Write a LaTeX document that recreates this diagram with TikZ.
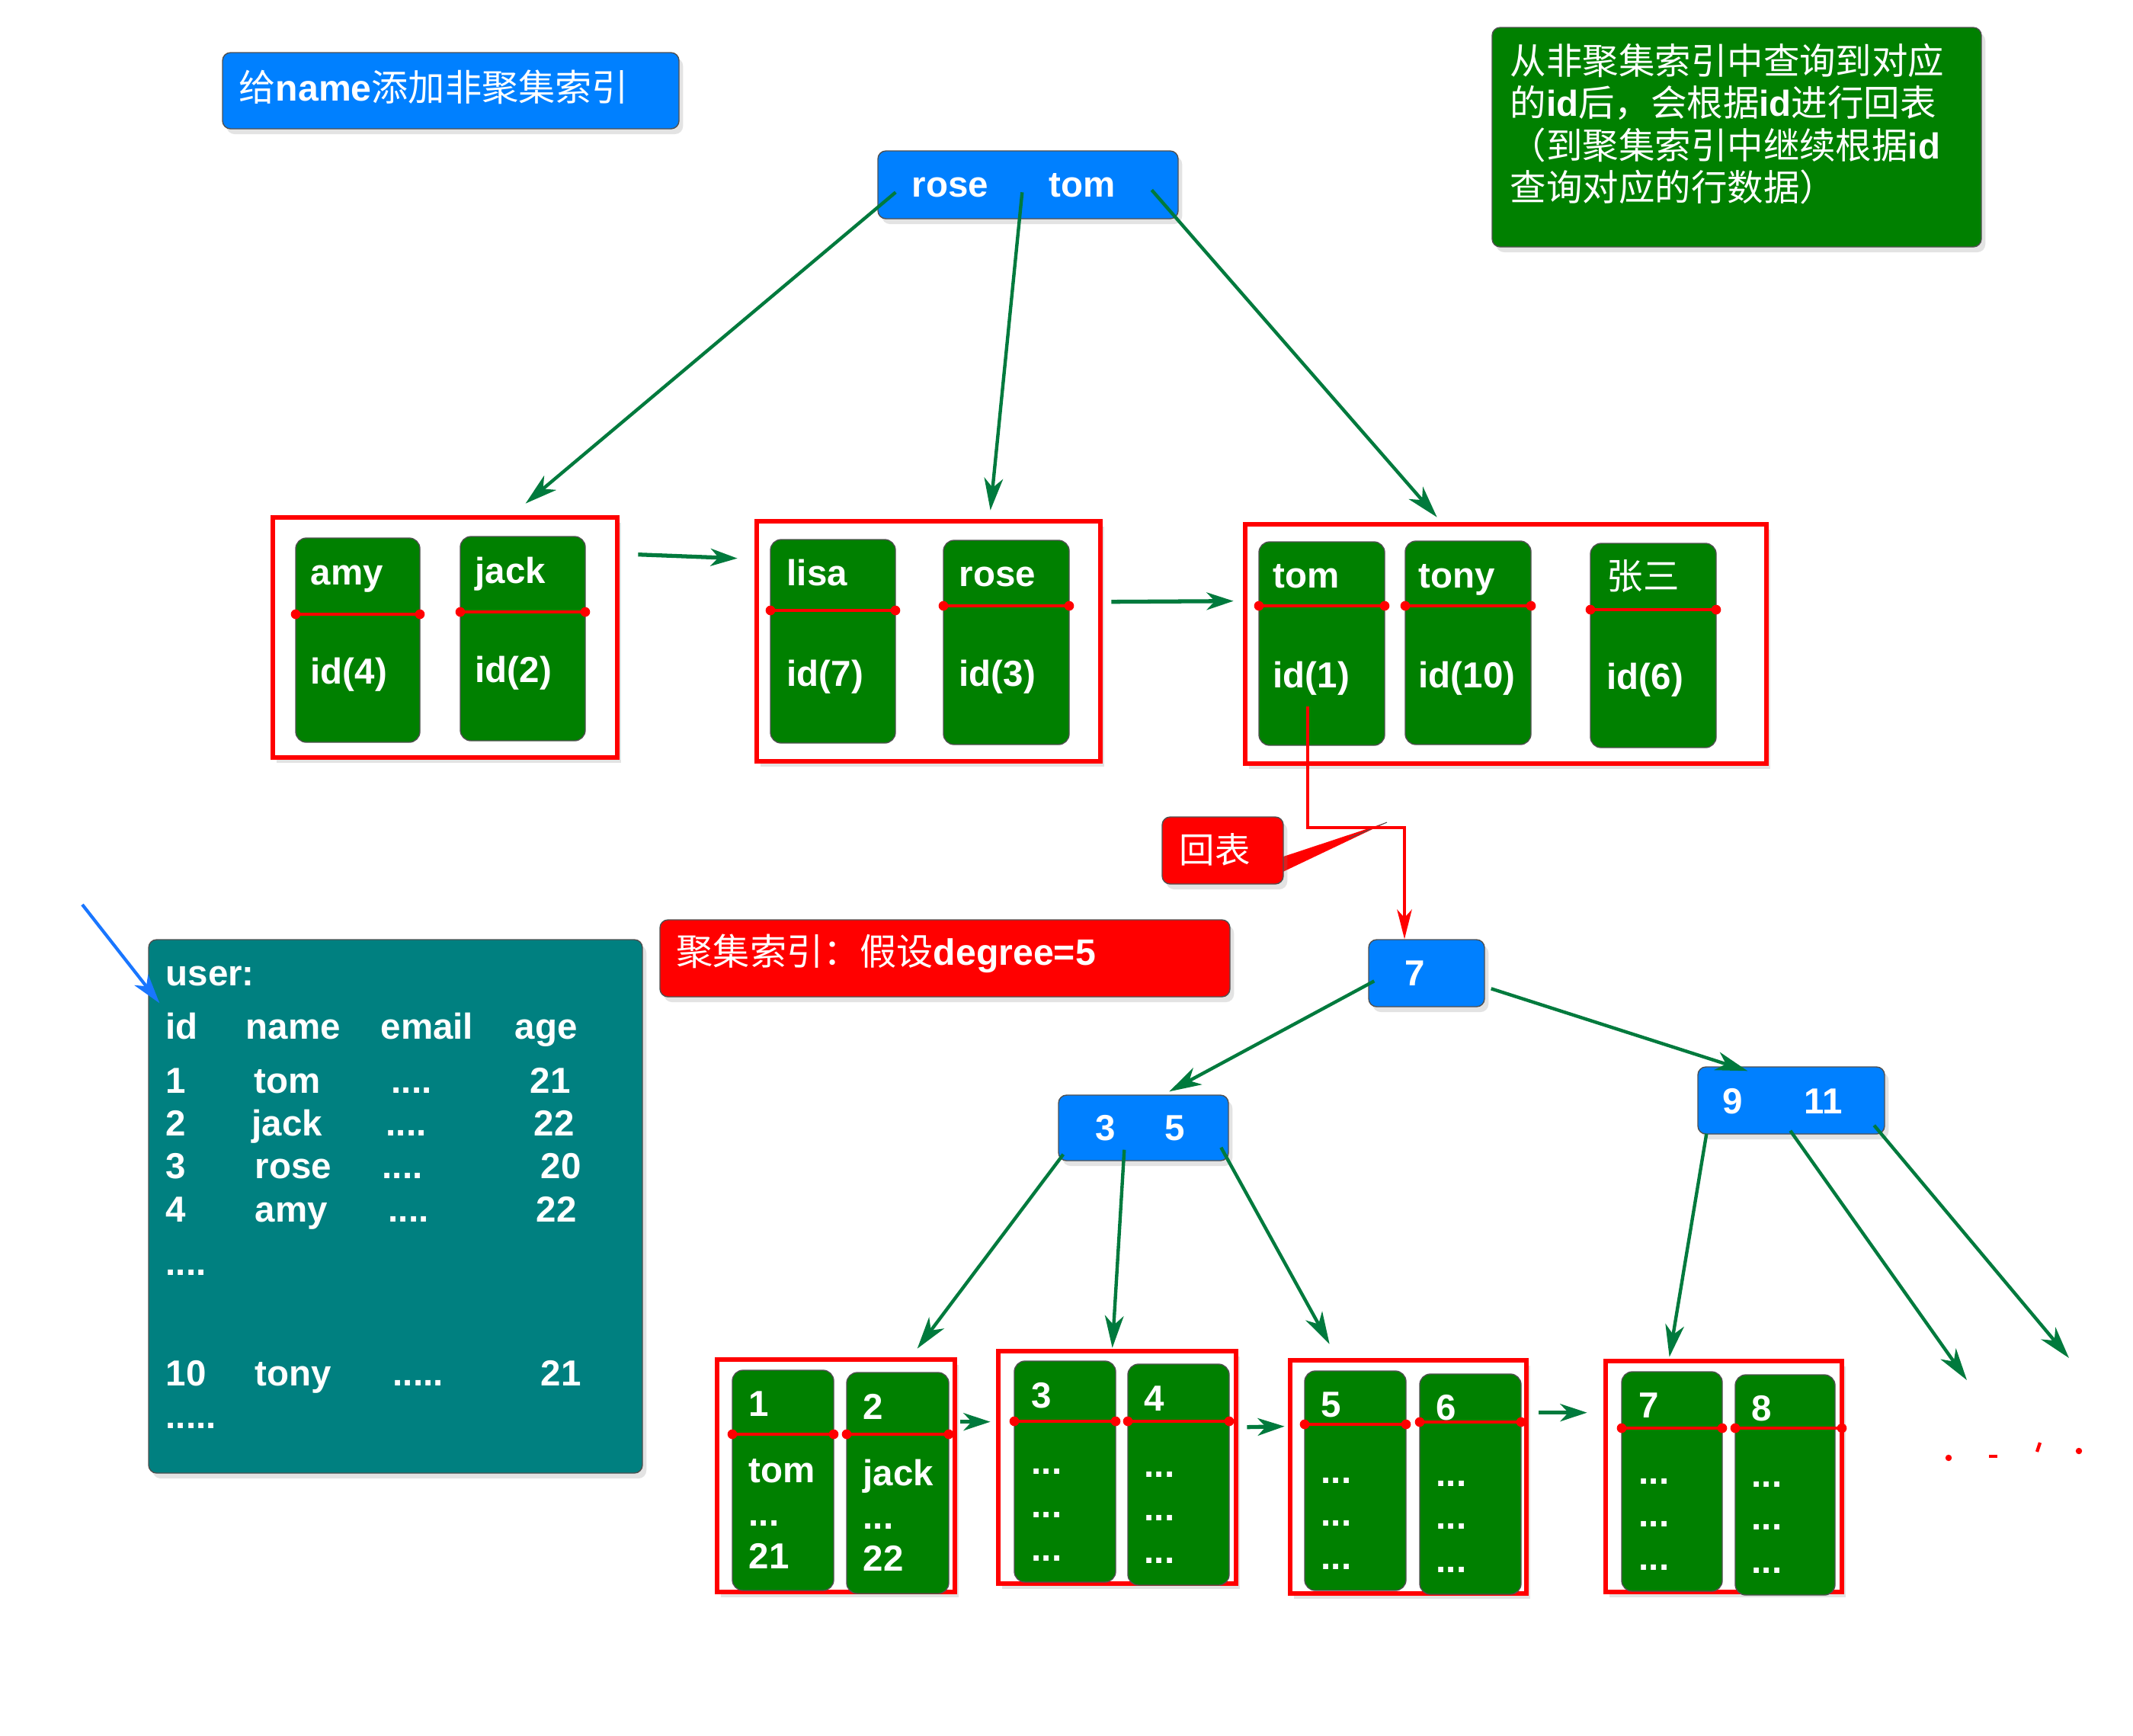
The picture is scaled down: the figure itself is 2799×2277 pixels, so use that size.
\documentclass[tikz,border=0pt]{standalone}
\usepackage{fontspec}
\setmainfont{Liberation Sans}
\newfontfamily\cjk{Noto Sans CJK SC}
\usetikzlibrary{arrows.meta,fit,calc,shadows}
\definecolor{nblue}{RGB}{0,128,255}
\definecolor{ngreen}{RGB}{0,128,0}
\definecolor{nteal}{RGB}{0,128,128}
\definecolor{agreen}{RGB}{0,122,61}
\definecolor{ablue}{RGB}{25,118,255}
\definecolor{edgegray}{RGB}{80,80,80}
\newcommand\zh[1]{{\cjk\mdseries #1}}
\newcommand\keyln[3]{\draw[keyline] (#1,#3) -- (#2,#3);
  \fill[red] (#1,#3) circle[radius=1.8pt] (#2,#3) circle[radius=1.8pt];}
\begin{document}
\begin{tikzpicture}[x=0.01cm,y=-0.01cm,
  shad/.style={drop shadow={opacity=0.22, shadow xshift=1.5pt, shadow yshift=-2pt}},
  bluebox/.style={fill=nblue, draw=edgegray, line width=0.4pt, rounded corners=3pt, inner sep=0pt, shad},
  greenbox/.style={fill=ngreen, draw=edgegray, line width=0.4pt, rounded corners=3pt, inner sep=0pt, shad},
  card/.style={fill=ngreen, draw=edgegray, line width=0.4pt, rounded corners=4pt, inner sep=0pt},
  tealbox/.style={fill=nteal, draw=edgegray, line width=0.4pt, rounded corners=3pt, inner sep=0pt, shad},
  redcall/.style={fill=red, draw=edgegray, line width=0.4pt, rounded corners=3pt, inner sep=0pt, shad},
  redframe/.style={draw=red, line width=1.9pt, fill=white, inner sep=0pt, shad},
  keyline/.style={draw=red, line width=1.1pt},
  wtxt/.style={text=white, inner sep=0pt, anchor=base west, font=\fontsize{13.5}{16}\selectfont\bfseries},
  garrow/.style={draw=agreen, line width=1.25pt, -{Stealth[length=12pt,width=7pt,inset=3.5pt]}},
  harrow/.style={draw=agreen, line width=1.5pt, -{Stealth[length=10pt,width=6.5pt,inset=3pt]}},
  rarrow/.style={draw=red, line width=1.2pt, -{Stealth[length=11pt,width=5.5pt,inset=3pt]}},
  barrow/.style={draw=ablue, line width=1.2pt, -{Stealth[length=11pt,width=6.5pt,inset=3pt]}}
]
\useasboundingbox (0,0) rectangle (2799,2277);

% ---------- title ----------
\node[bluebox, fit={(292,69)(891,169)}] (title) {};
\node[wtxt, font=\fontsize{13.7}{16}\selectfont\bfseries] (titleT) at (313,132) {\zh{给}name\zh{添加非聚集索引}};

% ---------- note ----------
\node[greenbox, fit={(1958,36)(2600,324)}] (note) {};
\begin{scope}[every node/.append style={font=\fontsize{14}{16}\selectfont\bfseries}]
\node[wtxt] (noteA) at (1981,97) {\zh{从非聚集索引中查询到对应}};
\node[wtxt] (noteB) at (1981,152) {\zh{的}id\zh{后，会根据}id\zh{进行回表}};
\node[wtxt] (noteC) at (1981,208) {\zh{（到聚集索引中继续根据}id};
\node[wtxt] (noteD) at (1981,263) {\zh{查询对应的行数据）}};
\end{scope}

% ---------- root of secondary index ----------
\node[bluebox, fit={(1152,198)(1546,287)}] (root) {};
\node[wtxt] (rootA) at (1196,258) {rose};
\node[wtxt] (rootB) at (1376,258) {tom};

% ---------- leaf pages of secondary index ----------
\node[redframe, fit={(358,679)(810,994)}] (boxA) {};
\node[card, fit={(388,706)(551,974)}] (amy) {};
\node[card, fit={(604,704)(768,972)}] (jack) {};
\keyln{388}{551}{806}
\keyln{604}{768}{803}
\node[wtxt] (amyT) at (407,767) {amy};
\node[wtxt] (amyI) at (407,897) {id(4)};
\node[wtxt] (jackT) at (623,765) {jack};
\node[wtxt] (jackI) at (623,895) {id(2)};

\node[redframe, fit={(993,684)(1444,999)}] (boxB) {};
\node[card, fit={(1011,708)(1175,975)}] (lisa) {};
\node[card, fit={(1238,709)(1403,977)}] (rose) {};
\keyln{1011}{1175}{801}
\keyln{1238}{1403}{795}
\node[wtxt] (lisaT) at (1032,768) {lisa};
\node[wtxt] (lisaI) at (1032,900) {id(7)};
\node[wtxt] (roseT) at (1258,769) {rose};
\node[wtxt] (roseI) at (1258,900) {id(3)};

\node[redframe, fit={(1634,688)(2318,1002)}] (boxC) {};
\node[card, fit={(1652,711)(1817,978)}] (tom) {};
\node[card, fit={(1844,710)(2009,977)}] (tony) {};
\node[card, fit={(2087,713)(2252,981)}] (zs) {};
\keyln{1652}{1817}{795}
\keyln{1844}{2009}{795}
\keyln{2087}{2252}{800}
\node[wtxt] (tomT) at (1670,771) {tom};
\node[wtxt] (tomI) at (1670,902) {id(1)};
\node[wtxt] (tonyT) at (1861,771) {tony};
\node[wtxt] (tonyI) at (1861,902) {id(10)};
\node[wtxt] (zsT) at (2108,773) {\zh{张三}};
\node[wtxt] (zsI) at (2108,904) {id(6)};

% arrows of secondary index
\draw[garrow] ([shift={(24,55)}]root.north west) -- ([shift={(335,-15)}]boxA.north west);
\draw[garrow] ([shift={(190,55)}]root.north west) -- ([shift={(310,-11)}]boxB.north west);
\draw[garrow] ([shift={(360,52)}]root.north west) -- ([shift={(255,-6)}]boxC.north west);
\draw[harrow] ([shift={(24,52)}]boxA.north east) -- ([shift={(-22,52)}]boxB.north west);
\draw[harrow] ([shift={(11,109)}]boxB.north east) -- ([shift={(-12,104)}]boxC.north west);

% ---------- 回表 ----------
\fill[red] (1675,1127) -- (1820,1079) -- (1675,1148) -- cycle;
\draw[edgegray, line width=0.3pt] (1770,1100) -- (1820,1079);
\node[redcall, fit={(1525,1072)(1684,1160)}] (hb) {};
\node[wtxt, font=\fontsize{13.2}{15}\selectfont] (hbT) at (1547,1132) {\zh{回表}};

% ---------- clustered index title ----------
\node[redcall, fit={(866,1207)(1614,1308)}] (deg) {};
\node[wtxt, font=\fontsize{13.7}{16}\selectfont\bfseries] (degT) at (887,1266) {\zh{聚集索引：假设}degree=5};

% ---------- table ----------
\node[tealbox, fit={(195,1233)(843,1933)}] (table) {};
\node[wtxt] (tu) at (217,1293) {user:};
\node[wtxt] (h1) at (217,1363) {id};
\node[wtxt] (h2) at (322,1363) {name};
\node[wtxt] (h3) at (499,1363) {email};
\node[wtxt] (h4) at (675,1363) {age};
\node[wtxt] (r1a) at (217,1434) {1};
\node[wtxt] (r1b) at (333,1434) {tom};
\node[wtxt] (r1c) at (513,1434) {....};
\node[wtxt] (r1d) at (695,1434) {21};
\node[wtxt] (r2a) at (217,1490) {2};
\node[wtxt] (r2b) at (330,1490) {jack};
\node[wtxt] (r2c) at (506,1490) {....};
\node[wtxt] (r2d) at (700,1490) {22};
\node[wtxt] (r3a) at (217,1546) {3};
\node[wtxt] (r3b) at (334,1546) {rose};
\node[wtxt] (r3c) at (501,1546) {....};
\node[wtxt] (r3d) at (709,1546) {20};
\node[wtxt] (r4a) at (217,1603) {4};
\node[wtxt] (r4b) at (334,1603) {amy};
\node[wtxt] (r4c) at (509,1603) {....};
\node[wtxt] (r4d) at (703,1603) {22};
\node[wtxt] (r5a) at (217,1673) {....};
\node[wtxt] (r6a) at (217,1818) {10};
\node[wtxt] (r6b) at (334,1818) {tony};
\node[wtxt] (r6c) at (515,1818) {.....};
\node[wtxt] (r6d) at (709,1818) {21};
\node[wtxt] (r7a) at (217,1874) {.....};
\coordinate (bstart) at (108,1187);
\draw[barrow] (bstart) -- ([shift={(15,84)}]table.north west);

% ---------- clustered index ----------
\node[bluebox, fit={(1796,1233)(1948,1321)}] (n7) {};
\node[wtxt] (n7T) at (1843,1293) {7};
\node[bluebox, fit={(1389,1437)(1612,1523)}] (n35) {};
\node[wtxt] (n35a) at (1437,1496) {3};
\node[wtxt] (n35b) at (1528,1496) {5};
\node[bluebox, fit={(2228,1400)(2473,1488)}] (n911) {};
\node[wtxt] (n911a) at (2260,1461) {9};
\node[wtxt] (n911b) at (2367,1461) {11};

% 回表 line
\draw[rarrow] ([shift={(65,217)}]tom.north west) -- ++(0,159) -| ([shift={(-29,0)}]n7.north);

% leaf pages
\node[redframe, fit={(941,1784)(1253,2089)}] (L1) {};
\node[card, fit={(961,1798)(1094,2087)}] (c1) {};
\node[card, fit={(1111,1801)(1245,2091)}] (c2) {};
\keyln{961}{1094}{1882}
\keyln{1111}{1245}{1882}
\node[wtxt] (c1a) at (982,1858) {1};
\node[wtxt] (c1b) at (982,1945) {tom};
\node[wtxt] (c1c) at (982,2002) {...};
\node[wtxt] (c1d) at (982,2058) {21};
\node[wtxt] (c2a) at (1132,1862) {2};
\node[wtxt] (c2b) at (1132,1949) {jack};
\node[wtxt] (c2c) at (1132,2006) {...};
\node[wtxt] (c2d) at (1132,2061) {22};

\node[redframe, fit={(1310,1773)(1622,2078)}] (L2) {};
\node[card, fit={(1331,1786)(1464,2076)}] (c3) {};
\node[card, fit={(1480,1790)(1613,2080)}] (c4) {};
\keyln{1331}{1464}{1865}
\keyln{1480}{1613}{1865}
\node[wtxt] (c3a) at (1353,1847) {3};
\node[wtxt] (c3b) at (1353,1934) {...};
\node[wtxt] (c3c) at (1353,1991) {...};
\node[wtxt] (c3d) at (1353,2048) {...};
\node[wtxt] (c4a) at (1501,1851) {4};
\node[wtxt] (c4b) at (1501,1938) {...};
\node[wtxt] (c4c) at (1501,1995) {...};
\node[wtxt] (c4d) at (1501,2051) {...};

\node[redframe, fit={(1693,1785)(2003,2091)}] (L3) {};
\node[card, fit={(1712,1799)(1845,2087)}] (c5) {};
\node[card, fit={(1863,1803)(1996,2092)}] (c6) {};
\keyln{1712}{1845}{1869}
\keyln{1863}{1996}{1866}
\node[wtxt] (c5a) at (1733,1859) {5};
\node[wtxt] (c5b) at (1733,1946) {...};
\node[wtxt] (c5c) at (1733,2002) {...};
\node[wtxt] (c5d) at (1733,2059) {...};
\node[wtxt] (c6a) at (1884,1863) {6};
\node[wtxt] (c6b) at (1884,1950) {...};
\node[wtxt] (c6c) at (1884,2006) {...};
\node[wtxt] (c6d) at (1884,2063) {...};

\node[redframe, fit={(2107,1786)(2417,2089)}] (L4) {};
\node[card, fit={(2128,1800)(2260,2088)}] (c7) {};
\node[card, fit={(2277,1804)(2408,2093)}] (c8) {};
\keyln{2128}{2260}{1874}
\keyln{2277}{2417}{1874}
\node[wtxt] (c7a) at (2150,1860) {7};
\node[wtxt] (c7b) at (2150,1947) {...};
\node[wtxt] (c7c) at (2150,2003) {...};
\node[wtxt] (c7d) at (2150,2060) {...};
\node[wtxt] (c8a) at (2298,1864) {8};
\node[wtxt] (c8b) at (2298,1951) {...};
\node[wtxt] (c8c) at (2298,2007) {...};
\node[wtxt] (c8d) at (2298,2064) {...};

% arrows of clustered index
\draw[garrow] ([shift={(8,55)}]n7.north west) -- ([shift={(146,-4)}]n35.north west);
\draw[garrow] ([shift={(8,65)}]n7.north east) -- ([shift={(66,6)}]n911.north west);
\draw[garrow] ([shift={(7,-9)}]n35.south west) -- ([shift={(266,-11)}]L1.north west);
\draw[garrow] ([shift={(87,-15)}]n35.south west) -- ([shift={(153,-1)}]L2.north west);
\draw[garrow] ([shift={(214,-18)}]n35.south west) -- ([shift={(55,-18)}]L3.north west);
\draw[garrow] ([shift={(12,-1)}]n911.south west) -- ([shift={(87,-2)}]L4.north west);
\coordinate (endA) at (2581,1811);
\coordinate (endB) at (2715,1782);
\draw[garrow] ([shift={(122,-5)}]n911.south west) -- (endA);
\draw[garrow] ([shift={(232,-12)}]n911.south west) -- (endB);
\draw[harrow] ([shift={(4,85)}]L1.north east) -- ([shift={(-7,96)}]L2.north west);
\draw[harrow] ([shift={(11,103)}]L2.north east) -- ([shift={(-4,90)}]L3.north west);
\draw[harrow] ([shift={(13,72)}]L3.north east) -- ([shift={(-21,71)}]L4.north west);

% red marks
\fill[red] (2557,1913) circle[radius=1.2pt];
\draw[red, line width=1.4pt] (2610,1911) -- (2621,1911);
\draw[red, line width=1.2pt] (2673,1905) -- (2677,1893);
\fill[red] (2728,1904) circle[radius=1.2pt];
\end{tikzpicture}
\end{document}
